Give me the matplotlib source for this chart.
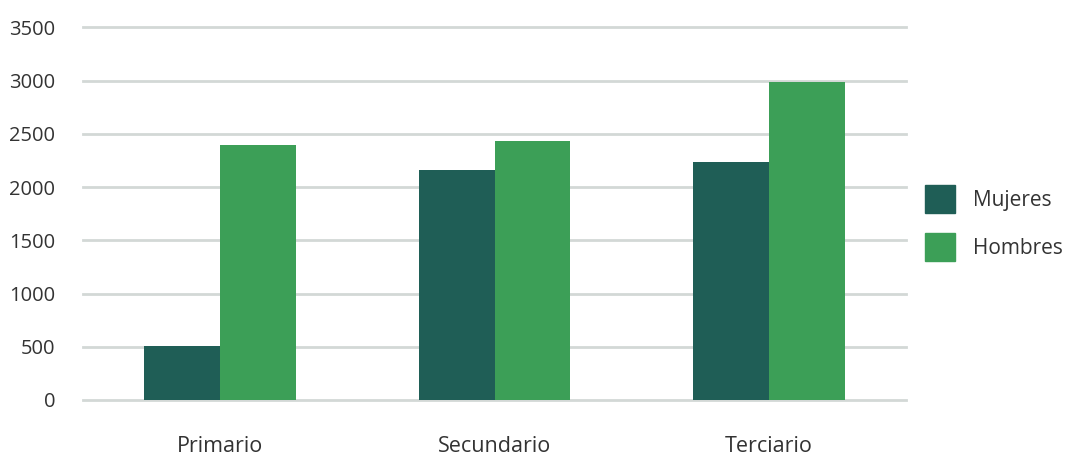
import numpy as np
import matplotlib.pyplot as plt
from matplotlib.patches import Patch

# datos
niveles = ['Primario', 'Secundario', 'Terciario']
mujeres = [510, 2160, 2240]
hombres = [2400, 2430, 2990]
y_ticks = [0, 500, 1000, 1500, 2000, 2500, 3000, 3500]

plt.rcParams['font.family'] = ['Open Sans', 'DejaVu Sans']

fig = plt.figure(figsize=(10.77, 4.55), dpi=100)
ax = fig.add_axes([0.0771, 0.1209, 0.7641, 0.8187])

x = np.arange(len(niveles))
w = 0.277
ax.bar(x - w / 2, mujeres, w, color='#1f5e56', label='Mujeres', zorder=3)
ax.bar(x + w / 2, hombres, w, color='#3c9f57', label='Hombres', zorder=3)

ax.set_xlim(-0.5, 2.5)
ax.set_ylim(0, 3500)
ax.set_yticks(y_ticks)
ax.set_yticklabels([str(v) for v in y_ticks])
ax.set_xticks(x)
ax.set_xticklabels(niveles)
ax.yaxis.grid(True, color='#d3d8d6', linewidth=2, zorder=0)
for gl in ax.get_ygridlines():
    gl.set_clip_on(False)
ax.tick_params(axis='both', length=0, colors='#333333')
ax.tick_params(axis='y', pad=20, labelsize=14.5)
ax.tick_params(axis='x', pad=26, labelsize=15.5)
for s in ax.spines.values():
    s.set_visible(False)

handles = [Patch(color='#1f5e56', label='Mujeres'),
           Patch(color='#3c9f57', label='Hombres')]
fig.legend(handles=handles, loc='center left', bbox_to_anchor=(0.859, 0.51),
           frameon=False, fontsize=15, handlelength=1.45, handleheight=1.65,
           handletextpad=0.85, labelspacing=1.0, borderpad=0,
           borderaxespad=0, labelcolor='#333333')

fig.savefig('out.png', dpi=100)
